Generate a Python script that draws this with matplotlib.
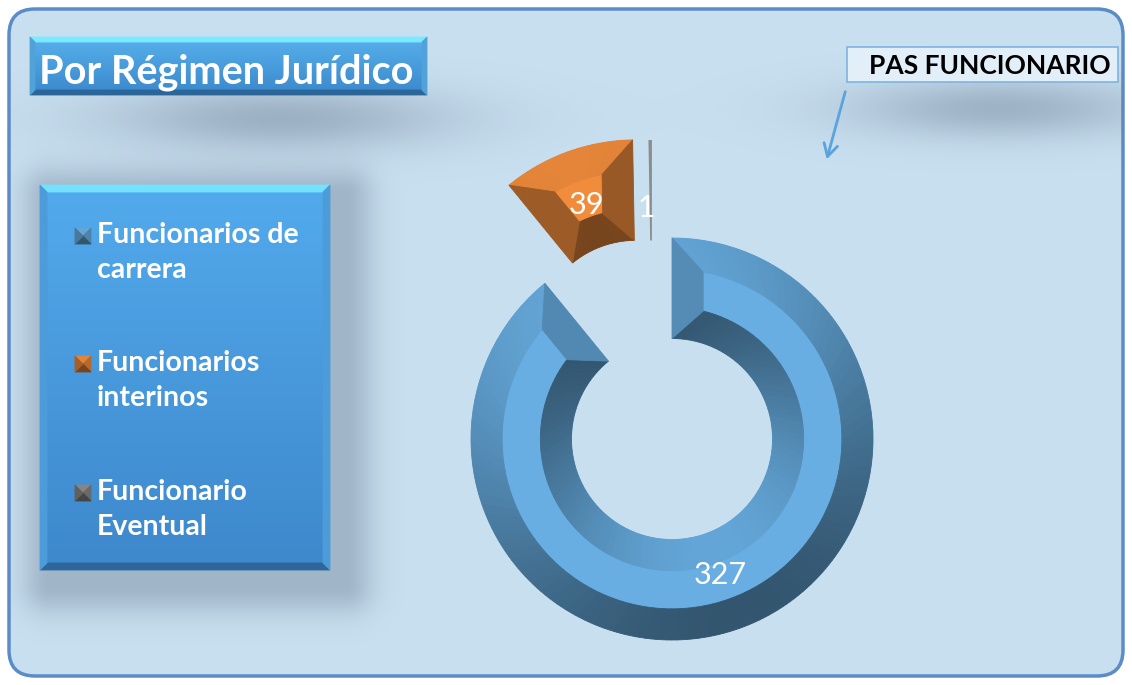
import numpy as np
import matplotlib
matplotlib.use('Agg')
import matplotlib.pyplot as plt
from matplotlib.patches import Polygon, FancyBboxPatch, Rectangle
from matplotlib.colors import LinearSegmentedColormap, to_rgb

# chart data
title = 'Por Régimen Jurídico'
box_label = 'PAS FUNCIONARIO'
categories = ['Funcionarios de\ncarrera', 'Funcionarios\ninterinos', 'Funcionario\nEventual']
values = [327, 39, 1]
face_colors = ['#68aee2', '#f08c3c', '#8c8c8c']
explode = [0, 0.52, 0.49]

W, H = 1132, 685
CX, CY, R_PX = 672, 439, 201   # donut centre / outer radius in pixels
BEVEL = 0.155
FONT = 'Lato'


def shade(color, normal_deg):
    """Darken a colour depending on the facet's facing direction (light from upper left)."""
    f = 0.72 + 0.23 * np.cos(np.radians(normal_deg - 112))
    return tuple(np.clip(np.array(to_rgb(color)) * f, 0, 1))


def arc(cx, cy, r, t1, t2, n=8):
    t = np.radians(np.linspace(t1, t2, n))
    return np.column_stack([cx + r * np.cos(t), cy + r * np.sin(t)])


def add_poly(ax, pts, color, z=2):
    ax.add_patch(Polygon(pts, closed=True, facecolor=color, edgecolor=color, lw=0.6, zorder=z))


def draw_bevels(ax, w, color, b=BEVEL):
    """Add bevel facets on top of a pie wedge so it looks like the 3D doughnut."""
    cx, cy = w.center
    r_out, r_in = w.r, w.r - w.width
    t1, t2 = w.theta1, w.theta2
    ro2, ri2 = r_out - b, r_in + b
    ao = np.degrees(np.arcsin(b / ro2))
    ai = np.degrees(np.arcsin(b / ri2))
    n = max(4, int((t2 - t1) / 3))
    for k in range(n):
        s, e = k / n, (k + 1) / n
        ta, tb = t1 + (t2 - t1) * s, t1 + (t2 - t1) * e
        mid = (ta + tb) / 2
        # outer facet
        ua = t1 + ao + (t2 - t1 - 2 * ao) * s
        ub = t1 + ao + (t2 - t1 - 2 * ao) * e
        pts = np.vstack([arc(cx, cy, r_out, ta, tb, 3), arc(cx, cy, ro2, ub, ua, 3)])
        add_poly(ax, pts, shade(color, mid))
        # inner facet
        va = t1 + ai + (t2 - t1 - 2 * ai) * s
        vb = t1 + ai + (t2 - t1 - 2 * ai) * e
        pts = np.vstack([arc(cx, cy, r_in, ta, tb, 3), arc(cx, cy, ri2, vb, va, 3)])
        add_poly(ax, pts, shade(color, mid + 180))
    # end facets
    for t, sign in ((t1, 1), (t2, -1)):
        pts = np.vstack([arc(cx, cy, r_out, t, t, 1), arc(cx, cy, r_in, t, t, 1),
                         arc(cx, cy, ri2, t + sign * ai, t + sign * ai, 1),
                         arc(cx, cy, ro2, t + sign * ao, t + sign * ao, 1)])
        add_poly(ax, pts, shade(color, t - sign * 90), z=2.1)


def bevel_box(ax, x0, y0, x1, y1, top, bottom, bev, z=3):
    cmap = LinearSegmentedColormap.from_list('g', [top, bottom])
    grad = np.linspace(0, 1, 100)[:, None]
    ax.imshow(grad, cmap=cmap, extent=(x0, x1, y1, y0), origin='upper', aspect='auto',
              zorder=z, interpolation='bicubic')
    light = tuple(np.clip(np.array(to_rgb(top)) * 1.25 + 0.05, 0, 1))
    dark = tuple(np.array(to_rgb(bottom)) * 0.75)
    side = tuple(np.array(to_rgb(top)) * 0.92)
    add_poly(ax, [(x0, y0), (x1, y0), (x1 - bev, y0 + bev), (x0 + bev, y0 + bev)], light, z + 0.1)
    add_poly(ax, [(x0, y1), (x1, y1), (x1 - bev, y1 - bev), (x0 + bev, y1 - bev)], dark, z + 0.1)
    add_poly(ax, [(x0, y0), (x0 + bev, y0 + bev), (x0 + bev, y1 - bev), (x0, y1)], side, z + 0.1)
    add_poly(ax, [(x1, y0), (x1 - bev, y0 + bev), (x1 - bev, y1 - bev), (x1, y1)], side, z + 0.1)


fig = plt.figure(figsize=(W / 100, H / 100), dpi=100)
fig.patch.set_facecolor('white')

# background axes in pixel coordinates
bg = fig.add_axes([0, 0, 1, 1])
bg.set_xlim(0, W)
bg.set_ylim(H, 0)
bg.axis('off')

frame = FancyBboxPatch((9, 9), W - 18, H - 18, boxstyle='round,pad=0,rounding_size=26',
                       facecolor='#c8dff0', edgecolor='#5b8cc6', lw=2.5, zorder=1)
bg.add_patch(frame)

# soft shadows
yy, xx = np.mgrid[0:H, 0:W]
alpha = 0.42 * np.exp(-((xx - 280) / 170) ** 2 - ((yy - 118) / 32) ** 2)
alpha += 0.40 * np.exp(-((xx - 1000) / 150) ** 2 - ((yy - 108) / 30) ** 2)
dx = np.maximum(np.maximum(50 - xx, xx - 345), 0)
dy = np.maximum(np.maximum(195 - yy, yy - 585), 0)
alpha += 0.38 * np.exp(-(np.hypot(dx, dy) / 28) ** 2)
alpha = np.clip(alpha, 0, 0.6)
shadow = np.zeros((H, W, 4))
shadow[..., :3] = np.array([95, 115, 135]) / 255
shadow[..., 3] = alpha
im = bg.imshow(shadow, extent=(0, W, H, 0), origin='upper', zorder=1.5, interpolation='bilinear')
im.set_clip_path(frame)

# title box
bevel_box(bg, 30, 37, 427, 95, '#58b0ec', '#3a88cc', 5)
bg.text(39, 83, title, color='white', fontsize=28.5, fontweight='bold', family=FONT,
        va='baseline', ha='left', zorder=5)

# legend box
bevel_box(bg, 40, 185, 330, 570, '#52aaec', '#3e88cc', 7)
legend_tops = [222, 350, 479]
for label, color, ytop in zip(categories, face_colors, legend_tops):
    x0, y0, s = 75, ytop + 6, 16
    c = (x0 + s / 2, y0 + s / 2)
    sq = [(x0, y0), (x0 + s, y0), (x0 + s, y0 + s), (x0, y0 + s)]
    for i, nd in enumerate([90, 0, 270, 180]):
        add_poly(bg, [sq[i], sq[(i + 1) % 4], c], shade(color, nd + 30), z=5)
    bg.text(97, ytop, label, color='white', fontsize=20.5, fontweight='bold', family=FONT,
            va='top', ha='left', zorder=5, linespacing=1.44)

# PAS FUNCIONARIO box + arrow
bg.add_patch(Rectangle((847, 47), 271, 35, facecolor='#e2eff9', edgecolor='#7fb3df', lw=1.2, zorder=4))
bg.text(990, 74, box_label, color='black', fontsize=19, fontweight='bold', family=FONT,
        ha='center', va='baseline', zorder=5)
bg.annotate('', xy=(826, 162), xytext=(846, 89),
            arrowprops=dict(arrowstyle='->,head_length=0.9,head_width=0.5', color='#5ba3dc', lw=2),
            zorder=5)

# doughnut axes, scaled so that radius 1 == R_PX pixels
S = 330
ax = fig.add_axes([(CX - S) / W, (H - CY - S) / H, 2 * S / W, 2 * S / H])
ax.patch.set_alpha(0)
total = sum(values)
wedges, _, autotexts = ax.pie(values, colors=face_colors, startangle=90, counterclock=False,
                              explode=explode, radius=1, pctdistance=0.72,
                              wedgeprops=dict(width=0.5, linewidth=0),
                              autopct=lambda p: f'{p * total / 100:.0f}',
                              textprops=dict(color='white', fontsize=22, family=FONT))
ax.set_xlim(-S / R_PX, S / R_PX)
ax.set_ylim(-S / R_PX, S / R_PX)
ax.axis('off')

# the tiny slice sits a bit left of its radial position in the original
wedges[2].set_center((-0.1, 0.4876))
mid = np.radians((wedges[2].theta1 + wedges[2].theta2) / 2)
autotexts[2].set_position((-0.1 + 0.66 * np.cos(mid) - 0.02, 0.4876 + 0.66 * np.sin(mid)))

for w, color in zip(wedges[:2], face_colors[:2]):
    draw_bevels(ax, w, color)

fig.savefig('out.png', dpi=100)
